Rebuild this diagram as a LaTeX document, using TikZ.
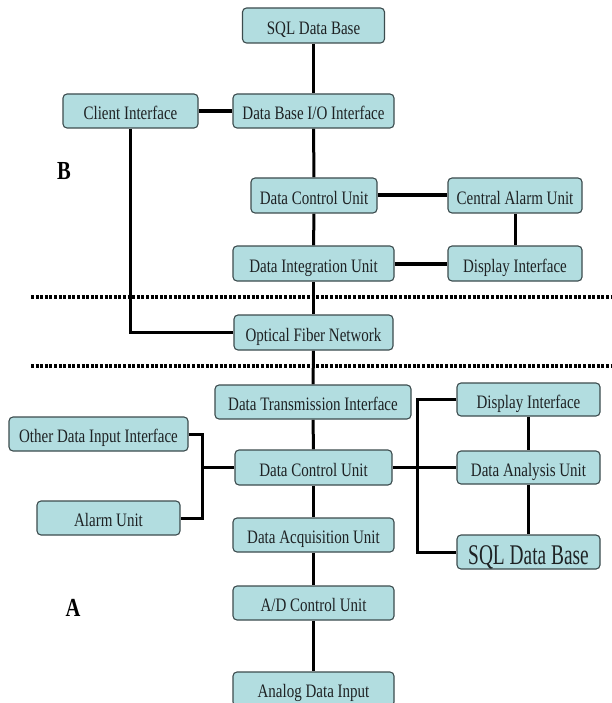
\documentclass[tikz,border=0pt]{standalone}
\usepackage{fontspec}
\setmainfont{Liberation Serif}[FakeStretch=0.79]
\newfontfamily\bigsqlfont{Liberation Serif}[FakeStretch=0.68]
\usetikzlibrary{backgrounds}
\definecolor{boxfill}{RGB}{178,221,224}
\definecolor{boxline}{RGB}{60,76,78}
\definecolor{txt}{RGB}{30,34,36}
\begin{document}
\begin{tikzpicture}[x=1pt,y=-1pt,
  box/.style={draw=boxline, fill=boxfill, rounded corners=4pt, line width=1.1pt,
    minimum height=34pt, inner sep=0pt, text=txt, text height=17.5pt, text depth=0pt,
    font=\fontsize{19}{21}\selectfont},
  conn/.style={line width=3pt},
  bconn/.style={line width=4pt},
  sep/.style={line width=3.5pt, dash pattern=on 3pt off 1.6pt},
  lbl/.style={font=\fontsize{26}{28}\selectfont\bfseries, inner sep=0pt}]
\useasboundingbox (0,0) rectangle (611,703);

% nodes (section B)
\node[box, minimum width=142pt, minimum height=35pt] (sqlA) at (313.5,25.5) {SQL Data Base};
\node[box, minimum width=161pt] (dbio) at (313.5,111) {Data Base I/O Interface};
\node[box, minimum width=135pt] (client) at (130.5,111) {Client Interface};
\node[box, minimum width=126pt, minimum height=35pt] (dcuA) at (314,195.5) {Data Control Unit};
\node[box, minimum width=134pt, minimum height=35pt] (cau) at (515,195.5) {Central Alarm Unit};
\node[box, minimum width=161pt, minimum height=35pt] (diu) at (313.5,263.5) {Data Integration Unit};
\node[box, minimum width=134pt, minimum height=35pt] (dispA) at (515,263.5) {Display Interface};
\node[box, minimum width=159pt, minimum height=35pt] (ofn) at (313.5,332.5) {Optical Fiber Network};

% nodes (section A)
\node[box, minimum width=196pt] (dti) at (313,402) {Data Transmission Interface};
\node[box, minimum width=179pt] (odi) at (98.5,434) {Other Data Input Interface};
\node[box, minimum width=143pt] (alarm) at (108.5,518) {Alarm Unit};
\node[box, minimum width=157pt, minimum height=35pt] (dcuB) at (313.5,467.5) {Data Control Unit};
\node[box, minimum width=143pt, minimum height=33pt] (dispB) at (528.5,399.5) {Display Interface};
\node[box, minimum width=143pt, minimum height=33pt] (dau) at (528.5,467.5) {Data Analysis Unit};
\node[box, minimum width=143pt, text height=25pt, font=\bigsqlfont\fontsize{28.5}{30}\selectfont] (sqlB) at (528.5,552) {SQL Data Base};
\node[box, minimum width=161pt] (dacq) at (313.5,535) {Data Acquisition Unit};
\node[box, minimum width=161pt] (adc) at (313.5,603) {A/D Control Unit};
\node[box, minimum width=161pt] (adi) at (313.5,689) {Analog Data Input};

% section labels
\node[lbl] (labB) at (64,171) {B};
\node[lbl] (labA) at (73,608) {A};

% junction coordinates
\coordinate (jl1) at (202,434);
\coordinate (jl2) at (202,518);
\coordinate (jl3) at (202,467.5);
\coordinate (jr1) at (417,399.5);
\coordinate (jr2) at (417,552);
\coordinate (sepAl) at (31,297);
\coordinate (sepAr) at (611,297);
\coordinate (sepBl) at (31,366);
\coordinate (sepBr) at (611,366);

\begin{scope}[on background layer]
  \fill[white] (0,0) rectangle (611,703);
  % main vertical spine
  \draw[conn] (sqlA) -- (dbio);
  \draw[conn] (dbio) -- (dcuA);
  \draw[conn] (dcuA) -- (diu);
  \draw[conn] (diu) -- (ofn);
  \draw[conn] (ofn) -- (dti);
  \draw[conn] (dti) -- (dcuB);
  \draw[conn] (dcuB) -- (dacq);
  \draw[conn] (dacq) -- (adc);
  \draw[conn] (adc) -- (adi);
  % section B links
  \draw[bconn] (client) -- (dbio);
  \draw[conn] (client) |- (ofn);
  \draw[bconn] (dcuA) -- (cau);
  \draw[conn] (cau) -- (dispA);
  \draw[bconn] (diu) -- (dispA);
  % section A links
  \draw[conn] (odi.east) -- (jl1) -- (jl2) -- (alarm.east);
  \draw[conn] (jl3) -- (dcuB.west);
  \draw[conn] (dcuB) -- (dau);
  \draw[conn] (dispB.west) -- (jr1) -- (jr2) -- (sqlB.west);
  \draw[conn] (dispB) -- (dau);
  \draw[conn] (dau) -- (sqlB);
  % dotted separators
  \draw[sep] (sepAl) -- (sepAr);
  \draw[sep] (sepBl) -- (sepBr);
\end{scope}
\end{tikzpicture}
\end{document}
